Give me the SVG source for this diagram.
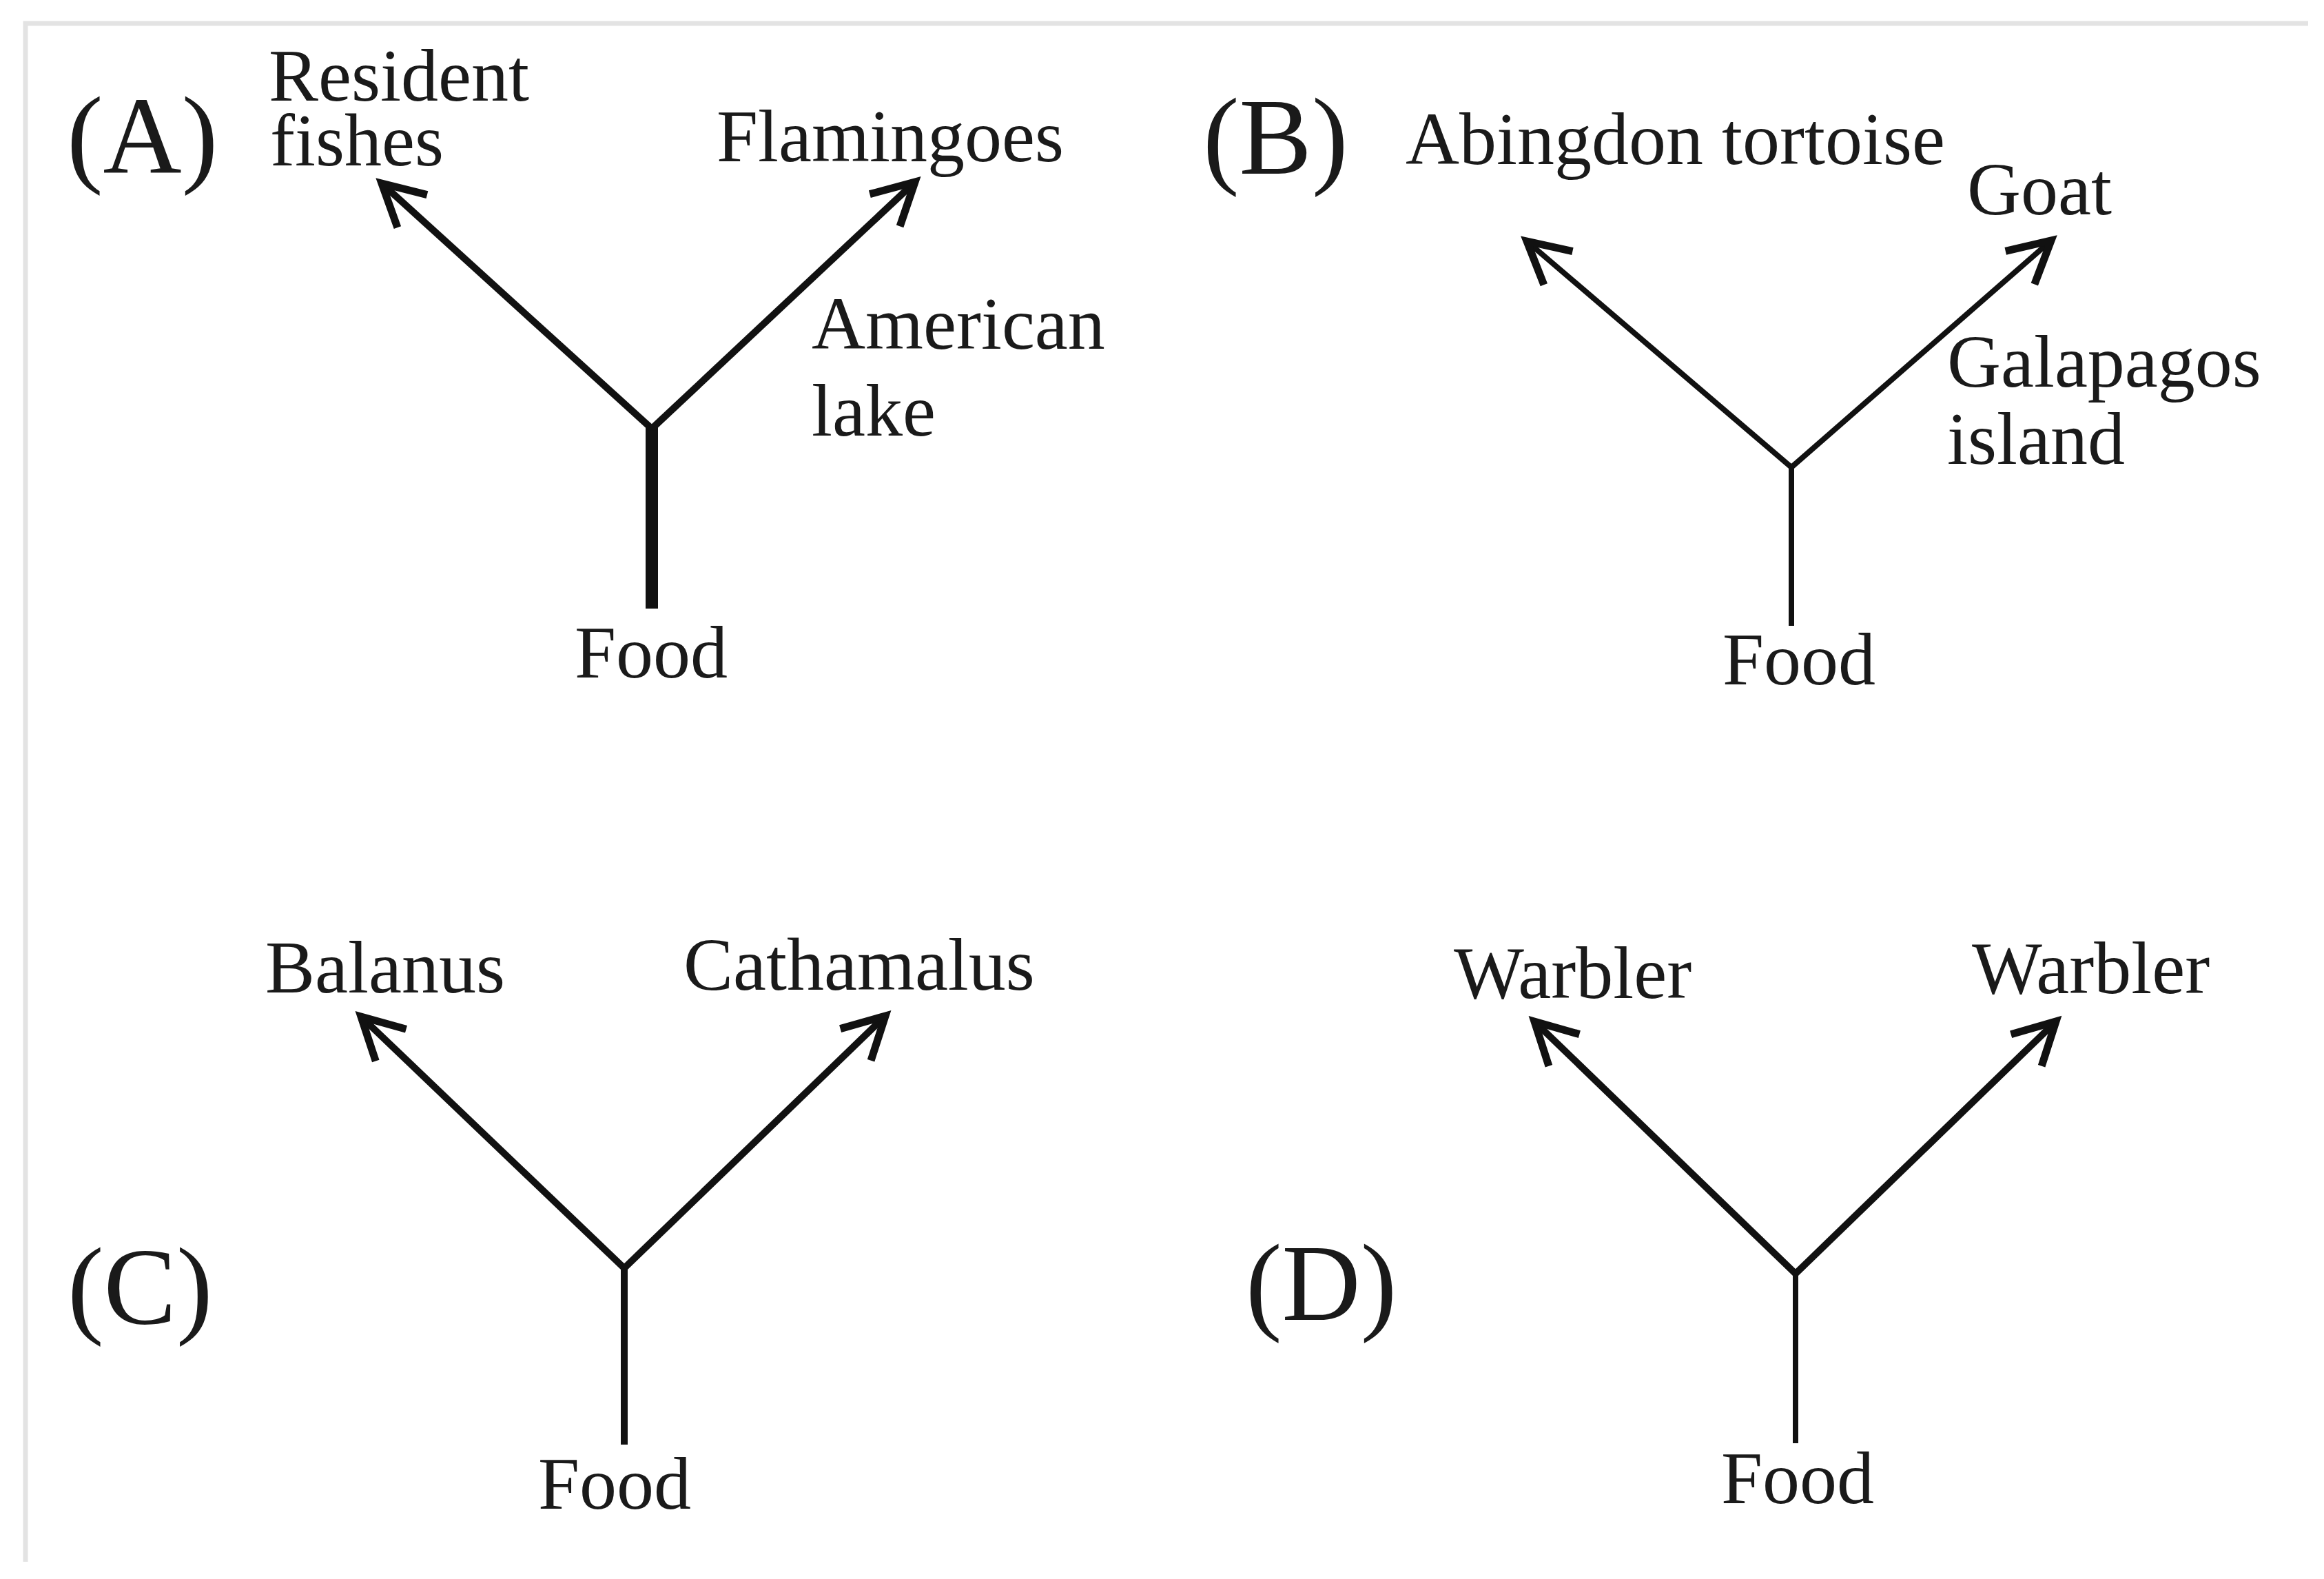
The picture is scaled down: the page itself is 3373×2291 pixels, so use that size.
<svg xmlns="http://www.w3.org/2000/svg" width="3373" height="2291" viewBox="0 0 3373 2291">
<style>
.t{font-family:"Liberation Serif","Times New Roman",serif;font-size:108px;fill:#1a1a1a}
.p{font-family:"Liberation Serif","Times New Roman",serif;font-size:158px;fill:#1a1a1a}
.br{fill:none;stroke:#111;stroke-linecap:butt}
.frame{fill:none;stroke:#e3e3e3;stroke-width:7}
</style>
<defs>
<marker id="arr" markerUnits="userSpaceOnUse" viewBox="-80 -50 100 100" markerWidth="100" markerHeight="100" refX="0" refY="0" orient="auto">
<path d="M-60,-32 L0,0 L-60,32" fill="none" stroke="#111" stroke-width="11" stroke-linejoin="miter" stroke-linecap="butt"/>
</marker>
</defs>
<rect width="3373" height="2291" fill="#fff"/>
<g id="frame">
<path class="frame" d="M37,2266 V34 H3350"/>
</g>
<g id="connectors">
<g id="conn-A">
<line class="br" x1="946" y1="618" x2="946" y2="883" stroke-width="18"/>
<line class="br" x1="946" y1="622" x2="554" y2="266" stroke-width="10" marker-end="url(#arr)"/>
<line class="br" x1="946" y1="622" x2="1328" y2="264" stroke-width="10" marker-end="url(#arr)"/>
</g>
<g id="conn-B">
<line class="br" x1="2600" y1="676" x2="2600" y2="908" stroke-width="8"/>
<line class="br" x1="2600" y1="678" x2="2216" y2="350" stroke-width="8" marker-end="url(#arr)"/>
<line class="br" x1="2600" y1="678" x2="2977" y2="349" stroke-width="8" marker-end="url(#arr)"/>
</g>
<g id="conn-C">
<line class="br" x1="906" y1="1836" x2="906" y2="2096" stroke-width="10"/>
<line class="br" x1="906" y1="1840" x2="524" y2="1475" stroke-width="10" marker-end="url(#arr)"/>
<line class="br" x1="906" y1="1840" x2="1285" y2="1474" stroke-width="10" marker-end="url(#arr)"/>
</g>
<g id="conn-D">
<line class="br" x1="2606" y1="1844" x2="2606" y2="2094" stroke-width="8"/>
<line class="br" x1="2606" y1="1848" x2="2227" y2="1482" stroke-width="10" marker-end="url(#arr)"/>
<line class="br" x1="2606" y1="1848" x2="2984" y2="1482" stroke-width="10" marker-end="url(#arr)"/>
</g>
</g>
<g id="panel-A">
<g id="label-A"><text class="p" x="97" y="250">(A)</text></g>
<g id="node-A-resident"><text class="t" x="390" y="146">Resident</text><text class="t" x="392" y="240">fishes</text></g>
<g id="node-A-flamingoes"><text class="t" x="1040" y="234">Flamingoes</text></g>
<g id="node-A-lake"><text class="t" x="1178" y="506">American</text><text class="t" x="1178" y="632">lake</text></g>
<g id="node-A-food"><text class="t" x="834" y="983">Food</text></g>
</g>
<g id="panel-B">
<g id="label-B"><text class="p" x="1746" y="252">(B)</text></g>
<g id="node-B-tortoise"><text class="t" x="2040" y="238">Abingdon tortoise</text></g>
<g id="node-B-goat"><text class="t" x="2855" y="311">Goat</text></g>
<g id="node-B-island"><text class="t" x="2826" y="561">Galapagos</text><text class="t" x="2826" y="673">island</text></g>
<g id="node-B-food"><text class="t" x="2500" y="993">Food</text></g>
</g>
<g id="panel-C">
<g id="label-C"><text class="p" x="98" y="1920">(C)</text></g>
<g id="node-C-balanus"><text class="t" x="385" y="1440">Balanus</text></g>
<g id="node-C-cathamalus"><text class="t" x="992" y="1436">Cathamalus</text></g>
<g id="node-C-food"><text class="t" x="781" y="2189">Food</text></g>
</g>
<g id="panel-D">
<g id="label-D"><text class="p" x="1808" y="1915">(D)</text></g>
<g id="node-D-warbler1"><text class="t" x="2110" y="1448">Warbler</text></g>
<g id="node-D-warbler2"><text class="t" x="2862" y="1441">Warbler</text></g>
<g id="node-D-food"><text class="t" x="2498" y="2181">Food</text></g>
</g>
</svg>
